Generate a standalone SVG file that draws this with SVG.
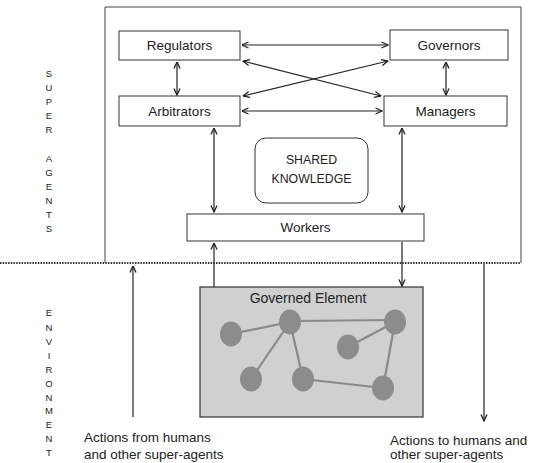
<svg xmlns="http://www.w3.org/2000/svg" width="533" height="463" viewBox="0 0 533 463">
<defs>
<style>
text{font-family:"Liberation Sans",Arial,sans-serif;fill:#222;}
.lbl{font-size:13.5px;text-anchor:middle;}
.sk{font-size:12.3px;text-anchor:middle;}
.side{font-size:9.5px;text-anchor:middle;}
.act{font-size:13.5px;}
.box{fill:#fff;stroke:#333;stroke-width:1;}
.con{stroke:#222;stroke-width:1.2;fill:none;}
.edge{stroke:#8a8a8a;stroke-width:2.2;}
.dot{fill:#8c8c8c;}
</style>
<marker id="ah" viewBox="0 0 8 8" refX="7.5" refY="4" markerWidth="8" markerHeight="8" markerUnits="userSpaceOnUse" orient="auto-start-reverse">
<path d="M1,1 L7.5,4 L1,7" fill="none" stroke="#222" stroke-width="1.3"/>
</marker>
</defs>
<rect width="533" height="463" fill="#fff"/>
<path d="M105,263 V7 H521 V263" fill="none" stroke="#444" stroke-width="1"/>
<line x1="0" y1="263" x2="521" y2="263" stroke="#333" stroke-width="2" stroke-dasharray="1.5,1.2"/>

<g id="side-labels">
<text class="side" x="49" y="77">S</text>
<text class="side" x="49" y="91">U</text>
<text class="side" x="49" y="105">P</text>
<text class="side" x="49" y="119">E</text>
<text class="side" x="49" y="133">R</text>
<text class="side" x="49" y="162">A</text>
<text class="side" x="49" y="176">G</text>
<text class="side" x="49" y="190">E</text>
<text class="side" x="49" y="204">N</text>
<text class="side" x="49" y="218">T</text>
<text class="side" x="49" y="232">S</text>
<text class="side" x="49" y="316">E</text>
<text class="side" x="49" y="331">N</text>
<text class="side" x="49" y="345">V</text>
<text class="side" x="49" y="359">I</text>
<text class="side" x="49" y="373">R</text>
<text class="side" x="49" y="387">O</text>
<text class="side" x="49" y="401">N</text>
<text class="side" x="49" y="414">M</text>
<text class="side" x="49" y="428">E</text>
<text class="side" x="49" y="442">N</text>
<text class="side" x="49" y="456">T</text>
</g>

<g id="connectors">
<line class="con" x1="242" y1="45" x2="388" y2="45" marker-start="url(#ah)" marker-end="url(#ah)"/>
<line class="con" x1="242" y1="111" x2="382" y2="111" marker-start="url(#ah)" marker-end="url(#ah)"/>
<line class="con" x1="177" y1="62" x2="177" y2="95" marker-start="url(#ah)" marker-end="url(#ah)"/>
<line class="con" x1="446" y1="62" x2="446" y2="95" marker-start="url(#ah)" marker-end="url(#ah)"/>
<line class="con" x1="243" y1="61" x2="381" y2="96" marker-start="url(#ah)" marker-end="url(#ah)"/>
<line class="con" x1="388" y1="61" x2="243" y2="96" marker-start="url(#ah)" marker-end="url(#ah)"/>
<line class="con" x1="214" y1="128" x2="214" y2="212" marker-start="url(#ah)" marker-end="url(#ah)"/>
<line class="con" x1="402" y1="128" x2="402" y2="212" marker-start="url(#ah)" marker-end="url(#ah)"/>
<line class="con" x1="214" y1="287" x2="214" y2="243" marker-end="url(#ah)"/>
<line class="con" x1="402" y1="242" x2="402" y2="286" marker-end="url(#ah)"/>
<line class="con" x1="133" y1="417" x2="133" y2="266" marker-end="url(#ah)"/>
<line class="con" x1="484" y1="264" x2="484" y2="421" marker-end="url(#ah)"/>
</g>

<g id="regulators"><rect class="box" x="119" y="31" width="121" height="29"/><text class="lbl" x="179.5" y="50">Regulators</text></g>
<g id="governors"><rect class="box" x="390" y="30" width="118" height="30"/><text class="lbl" x="449" y="50">Governors</text></g>
<g id="arbitrators"><rect class="box" x="119" y="96" width="121" height="30"/><text class="lbl" x="179.5" y="116">Arbitrators</text></g>
<g id="managers"><rect class="box" x="384" y="96" width="123" height="30"/><text class="lbl" x="445.5" y="116">Managers</text></g>
<g id="shared-knowledge"><rect class="box" x="255" y="138" width="113" height="65" rx="11"/><text class="sk" x="311.5" y="164">SHARED</text><text class="sk" x="311.5" y="183">KNOWLEDGE</text></g>
<g id="workers"><rect class="box" x="187" y="214" width="237" height="27"/><text class="lbl" x="305.5" y="232">Workers</text></g>

<g id="governed-element">
<rect x="200" y="287" width="223" height="130" fill="#d0d0d0" stroke="#333" stroke-width="1.2"/>
<text class="lbl" x="308" y="303" style="font-size:14px">Governed Element</text>
<line class="edge" x1="231" y1="334" x2="290" y2="322"/>
<line class="edge" x1="290" y1="321" x2="395" y2="320"/>
<line class="edge" x1="395" y1="322" x2="348" y2="347"/>
<line class="edge" x1="290" y1="322" x2="251" y2="379"/>
<line class="edge" x1="290" y1="322" x2="303" y2="379"/>
<line class="edge" x1="303" y1="379" x2="383" y2="388"/>
<line class="edge" x1="395" y1="322" x2="383" y2="388"/>
<ellipse class="dot" cx="231" cy="334" rx="11" ry="12.5"/>
<ellipse class="dot" cx="290" cy="322" rx="11" ry="12.5"/>
<ellipse class="dot" cx="395" cy="322" rx="11" ry="12.5"/>
<ellipse class="dot" cx="348" cy="347" rx="11" ry="12.5"/>
<ellipse class="dot" cx="251" cy="379" rx="11" ry="12.5"/>
<ellipse class="dot" cx="303" cy="379" rx="11" ry="12.5"/>
<ellipse class="dot" cx="383" cy="388" rx="11" ry="12.5"/>
</g>

<g id="actions-from">
<text class="act" x="84" y="442">Actions from humans</text>
<text class="act" x="84" y="459">and other super-agents</text>
</g>
<g id="actions-to">
<text class="act" x="390" y="445">Actions to humans and</text>
<text class="act" x="390" y="459">other super-agents</text>
</g>
</svg>
